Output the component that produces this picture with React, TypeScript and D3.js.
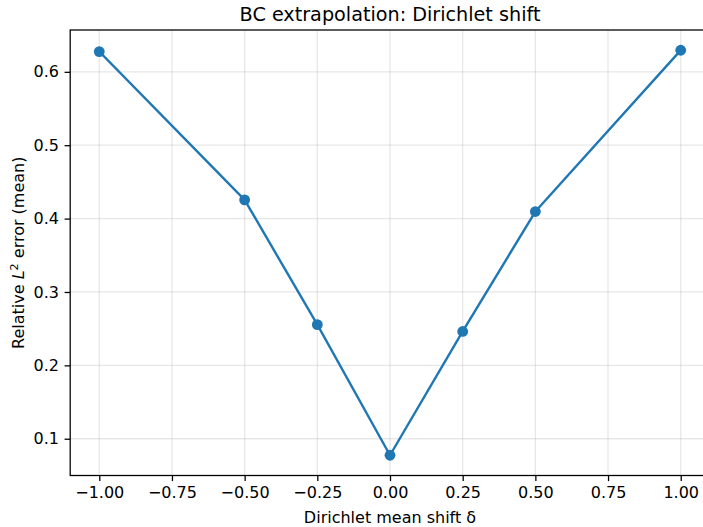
import React, { useEffect, useRef } from 'react';
import * as d3 from 'd3';

// values
const shifts = [-1.0, -0.5, -0.25, 0.0, 0.25, 0.5, 1.0];
const relError = [0.6276, 0.4255, 0.2555, 0.0775, 0.2462, 0.4096, 0.6294];
const xTicks = [-1.0, -0.75, -0.5, -0.25, 0.0, 0.25, 0.5, 0.75, 1.0];
const yTicks = [0.1, 0.2, 0.3, 0.4, 0.5, 0.6];

const W = 703;
const H = 527;
const margin = { left: 70.2, top: 30, right: 709.8, bottom: 475.5 };
const font = 'DejaVu Sans, sans-serif';
const blue = '#1f77b4';

function padded(vals: number[]): [number, number] {
  const [lo, hi] = d3.extent(vals) as [number, number];
  const m = (hi - lo) * 0.05;
  return [lo - m, hi + m];
}

export default function App() {
  const ref = useRef<SVGSVGElement>(null);

  useEffect(() => {
    const svg = d3.select(ref.current);
    svg.selectAll('*').remove();

    const x = d3.scaleLinear().domain(padded(shifts)).range([margin.left, margin.right]);
    const y = d3.scaleLinear().domain(padded(relError)).range([margin.bottom, margin.top]);

    svg.append('rect').attr('width', W).attr('height', H).attr('fill', 'white');

    // grid
    const grid = svg.append('g').attr('stroke', '#b0b0b0').attr('stroke-opacity', 0.3).attr('stroke-width', 1.28);
    grid.selectAll('.gx').data(xTicks).enter().append('line')
      .attr('x1', d => x(d)).attr('x2', d => x(d))
      .attr('y1', margin.top).attr('y2', margin.bottom);
    grid.selectAll('.gy').data(yTicks).enter().append('line')
      .attr('y1', d => y(d)).attr('y2', d => y(d))
      .attr('x1', margin.left).attr('x2', margin.right);

    // line + markers
    const line = d3.line<number>().x((d, i) => x(shifts[i])).y(d => y(d));
    svg.append('path').datum(relError)
      .attr('d', line)
      .attr('fill', 'none')
      .attr('stroke', blue)
      .attr('stroke-width', 2.4)
      .attr('stroke-linejoin', 'round')
      .attr('stroke-linecap', 'square');
    svg.selectAll('circle.pt').data(relError).enter().append('circle')
      .attr('cx', (d, i) => x(shifts[i]))
      .attr('cy', d => y(d))
      .attr('r', 5.4)
      .attr('fill', blue);

    // axes
    const xAxis = d3.axisBottom(x).tickValues(xTicks).tickSize(5.6).tickPadding(5.6)
      .tickFormat(d => d3.format('.2f')(d as number).replace('-', '\u2212'));
    const gx = svg.append('g').attr('transform', `translate(0,${margin.bottom})`).call(xAxis);
    const yAxis = d3.axisLeft(y).tickValues(yTicks).tickSize(5.6).tickPadding(5.6)
      .tickFormat(d => d3.format('.1f')(d as number));
    const gy = svg.append('g').attr('transform', `translate(${margin.left},0)`).call(yAxis);
    [gx, gy].forEach(g => {
      g.select('.domain').remove();
      g.selectAll('line').attr('stroke', '#000').attr('stroke-width', 1.28);
      g.selectAll('text').attr('font-family', font).attr('font-size', 16).attr('fill', '#000');
    });

    // frame
    svg.append('rect')
      .attr('x', margin.left).attr('y', margin.top)
      .attr('width', margin.right - margin.left).attr('height', margin.bottom - margin.top)
      .attr('fill', 'none').attr('stroke', '#000').attr('stroke-width', 1.28);

    svg.append('text')
      .attr('x', (margin.left + margin.right) / 2).attr('y', 20.5)
      .attr('text-anchor', 'middle').attr('font-family', font).attr('font-size', 19.2)
      .text('BC extrapolation: Dirichlet shift');

    svg.append('text')
      .attr('x', (margin.left + margin.right) / 2).attr('y', 523)
      .attr('text-anchor', 'middle').attr('font-family', font).attr('font-size', 16)
      .text('Dirichlet mean shift δ');

    const yl = svg.append('text')
      .attr('transform', `translate(23.5,${(margin.top + margin.bottom) / 2}) rotate(-90)`)
      .attr('text-anchor', 'middle').attr('font-family', font).attr('font-size', 16);
    yl.append('tspan').text('Relative ');
    yl.append('tspan').attr('font-style', 'italic').text('L');
    yl.append('tspan').attr('font-size', 11.2).attr('dy', -6).text('2');
    yl.append('tspan').attr('dy', 6).text(' error (mean)');
  }, []);

  return (
    <div style={{ position: 'absolute', left: 0, top: 0 }}>
      <svg ref={ref} width={W} height={H} style={{ display: 'block' }} />
    </div>
  );
}
